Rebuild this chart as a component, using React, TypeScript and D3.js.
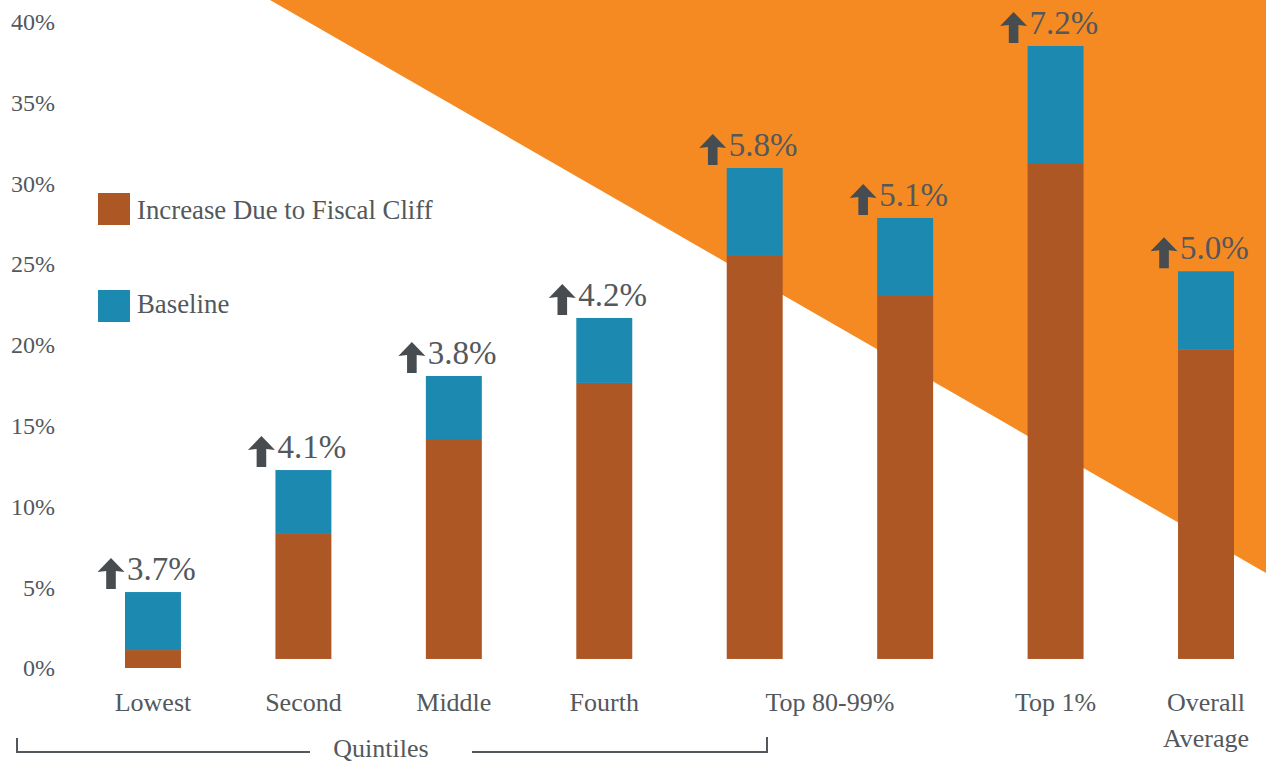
import React from "react";
import * as d3 from "d3";

const barKeys = ["Lowest", "Second", "Middle", "Fourth", "Top 80-99% A", "Top 80-99% B", "Top 1%", "Overall Average"];
const barBase = [0, 0.56, 0.56, 0.56, 0.56, 0.56, 0.56, 0.56];
const increaseValues = [1.11, 7.79, 13.61, 17.08, 24.94, 22.46, 30.69, 19.16];
const baselineValues = [3.59, 3.9, 3.9, 4.02, 5.44, 4.83, 7.24, 4.83];
const changeLabels = ["3.7%", "4.1%", "3.8%", "4.2%", "5.8%", "5.1%", "7.2%", "5.0%"];
const yTicks = [0, 5, 10, 15, 20, 25, 30, 35, 40];
const xLabels: { lines: string[]; bars: number[] }[] = [
  { lines: ["Lowest"], bars: [0] },
  { lines: ["Second"], bars: [1] },
  { lines: ["Middle"], bars: [2] },
  { lines: ["Fourth"], bars: [3] },
  { lines: ["Top 80-99%"], bars: [4, 5] },
  { lines: ["Top 1%"], bars: [6] },
  { lines: ["Overall", "Average"], bars: [7] },
];
const legendItems = ["Increase Due to Fiscal Cliff", "Baseline"];

const W = 1266;
const H = 763;
const COLORS = { increase: "#AD5724", baseline: "#1C89B0", orange: "#F58A22", text: "#53585C", arrow: "#464C50" };
const FONT = "'Liberation Serif', 'Times New Roman', serif";

export default function App() {
  const y = d3.scaleLinear().domain([0, 40]).range([668, 21.6]);
  const x = d3.scaleBand<string>().domain(barKeys).range([125, 1234]).paddingInner(0.628).paddingOuter(0);
  const bw = x.bandwidth();

  const tri = d3.line()([[270, 0], [W, 0], [W, 573]]) + "Z";

  const arrowPath = (ax: number, by: number) => {
    const top = by - 22;
    const bottom = by + 9;
    const cx = ax - 13;
    const headB = top + 14;
    return d3.line()([
      [cx, top],
      [cx + 13.5, headB],
      [cx + 4.8, headB - 1],
      [cx + 4.8, bottom],
      [cx - 4.8, bottom],
      [cx - 4.8, headB - 1],
      [cx - 13.5, headB],
    ]) + "Z";
  };

  return (
    <svg width={W} height={H} style={{ position: "fixed", left: 0, top: 0, background: "#fff" }} fontFamily={FONT}>
      <path d={tri} fill={COLORS.orange} />

      {yTicks.map((t) => (
        <text key={t} x={55} y={y(t)} dy="0.35em" textAnchor="end" fontSize={24} fill={COLORS.text}>
          {t}%
        </text>
      ))}

      {barKeys.map((k, i) => {
        const x0 = x(k)!;
        const b = barBase[i];
        const inc = increaseValues[i];
        const base = baselineValues[i];
        const topV = b + inc + base;
        const labelY = y(topV) - 12;
        return (
          <g key={k}>
            <rect x={x0} y={y(b + inc)} width={bw} height={y(b) - y(b + inc)} fill={COLORS.increase} />
            <rect x={x0} y={y(topV)} width={bw} height={y(b + inc) - y(topV)} fill={COLORS.baseline} />
            <path d={arrowPath(x0 - 1, labelY)} fill={COLORS.arrow} />
            <text x={x0 + 2} y={labelY} fontSize={33} fill={COLORS.text}>
              {changeLabels[i]}
            </text>
          </g>
        );
      })}

      {xLabels.map((l) => {
        const cx = d3.mean(l.bars, (bi) => x(barKeys[bi])! + bw / 2)!;
        return (
          <text key={l.lines[0]} x={cx} y={711} textAnchor="middle" fontSize={26} fill={COLORS.text}>
            {l.lines.map((ln, j) => (
              <tspan key={ln} x={cx} dy={j === 0 ? 0 : 36}>
                {ln}
              </tspan>
            ))}
          </text>
        );
      })}

      <g stroke={COLORS.text} strokeWidth={2} fill="none">
        <path d="M17,738 V752 H310" />
        <path d="M472,752 H767 V737" />
      </g>
      <text x={381} y={757} textAnchor="middle" fontSize={26} fill={COLORS.text}>
        Quintiles
      </text>

      {legendItems.map((l, i) => (
        <g key={l}>
          <rect x={98} y={193 + i * 97} width={32} height={32} fill={i === 0 ? COLORS.increase : COLORS.baseline} />
          <text x={137} y={219 + i * 94} fontSize={26.8} fill={COLORS.text}>
            {l}
          </text>
        </g>
      ))}
    </svg>
  );
}
